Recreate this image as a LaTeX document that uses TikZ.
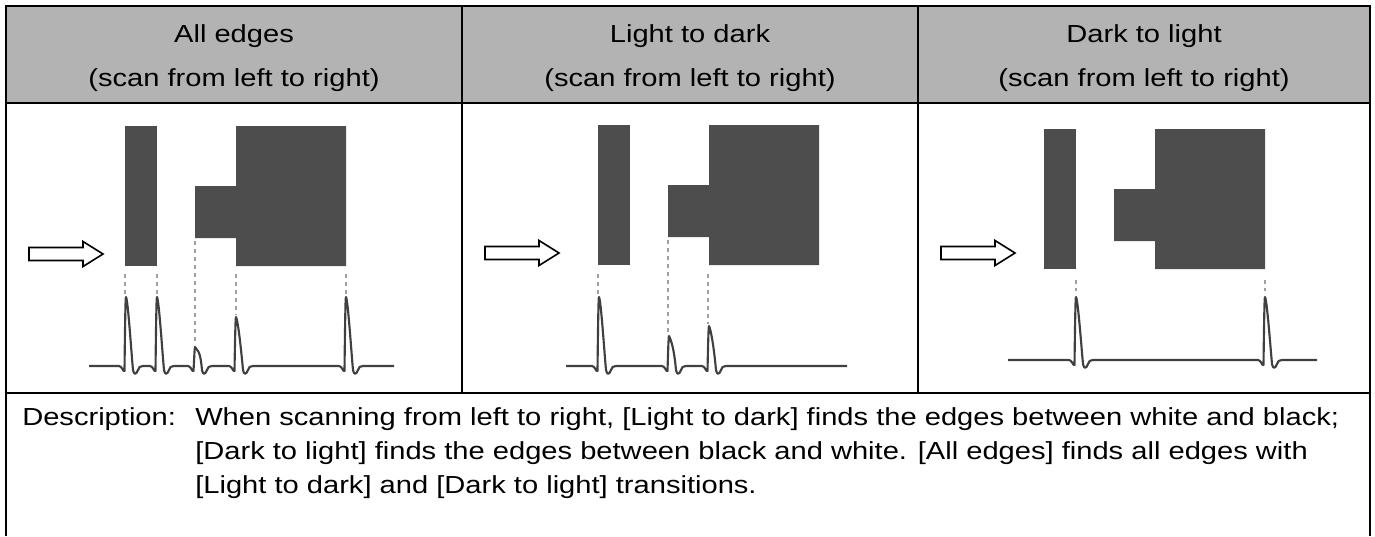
\documentclass[tikz,border=0pt]{standalone}
\usepackage{fontspec}
\setmainfont{Liberation Sans}[FakeStretch=1.18]
\usepackage{tikz}
\definecolor{headgray}{HTML}{B3B3B3}
\definecolor{blobgray}{HTML}{4D4D4D}
\definecolor{wavegray}{HTML}{404040}
\definecolor{guidegray}{HTML}{A0A0A0}
\tikzset{
  cellrule/.style={line width=1.6pt,draw=black},
  headtext/.style={anchor=base,inner sep=0pt,font=\fontsize{18.5pt}{22pt}\selectfont},
  desctext/.style={anchor=base west,inner sep=0pt,font=\fontsize{18.5pt}{22pt}\selectfont},
  blob/.style={fill=blobgray},
  guide/.style={draw=guidegray,line width=0.8pt,dash pattern=on 3pt off 3pt},
  wave/.style={draw=wavegray,line width=1.6pt,line join=round},
  arrowline/.style={draw=black,line width=1.2pt,fill=white},
  spike/.style n args={3}{insert path={-- (#1-7,#3)
    .. controls (#1-4,#3) and (#1-3,#3+6) .. (#1-1.5,#3+5)
    .. controls (#1-0.8,#2+12) and (#1-0.4,#2) .. (#1,#2)
    .. controls (#1+2,#2+4) and (#1+5,#3-18) .. (#1+7,#3+4)
    .. controls (#1+8,#3+9) and (#1+10,#3+9) .. (#1+12,#3+4)
    .. controls (#1+13,#3+1) and (#1+14,#3) .. (#1+17,#3)}}
}
\newcommand{\scanarrow}[3]{\draw[arrowline] (#1,#3-6.5) -- (#2-20,#3-6.5) -- (#2-20,#3-12.5)
  -- (#2,#3) -- (#2-20,#3+12.5) -- (#2-20,#3+6.5) -- (#1,#3+6.5) -- cycle;}
\newcommand{\blobs}{%
  \fill[blob] (0,0) rectangle (32,140);
  \fill[blob] (111,0) -- (221,0) -- (221,140) -- (111,140) -- (111,112) -- (70,112) -- (70,60) -- (111,60) -- cycle;}

\begin{document}
\begin{tikzpicture}[x=0.75pt,y=-0.75pt]
\useasboundingbox (0,0) rectangle (1375,536);

% table
\fill[headgray] (6,6) rectangle (1370,103);
\draw[cellrule] (6,536) -- (6,6) -- (1370,6) -- (1370,536);
\draw[cellrule] (6,103) -- (1370,103);
\draw[cellrule] (6,393) -- (1370,393);
\draw[cellrule] (462,6) -- (462,393);
\draw[cellrule] (918,6) -- (918,393);

\node[headtext] (allhead) at (234,42) {All edges};
\node[headtext] (allscan) at (234,86) {(scan from left to right)};
\node[headtext] (lighthead) at (690,42) {Light to dark};
\node[headtext] (lightscan) at (690,86) {(scan from left to right)};
\node[headtext] (darkhead) at (1144,42) {Dark to light};
\node[headtext] (darkscan) at (1144,86) {(scan from left to right)};

% all edges
\begin{scope}[shift={(125,126)}] \blobs \end{scope}
\scanarrow{29}{103}{254}
\draw[guide] (125,274) -- (125,295);
\draw[guide] (157,274) -- (157,295);
\draw[guide] (195,241) -- (195,345);
\draw[guide] (236,274) -- (236,315);
\draw[guide] (346,274) -- (346,295);
\draw[wave] (89,366) [spike={126}{297}{366}] [spike={157}{297}{366}] [spike={195}{347}{366}]
  [spike={236}{317}{366}] [spike={346}{297}{366}] -- (394,366);

% light to dark
\begin{scope}[shift={(598,125)}] \blobs \end{scope}
\scanarrow{485}{559}{253}
\draw[guide] (598,274) -- (598,295);
\draw[guide] (668,240) -- (668,334);
\draw[guide] (708,274) -- (708,324);
\draw[wave] (566,366) [spike={599}{297}{366}] [spike={669}{336}{366}] [spike={709}{326}{366}] -- (847,366);

% dark to light
\begin{scope}[shift={(1044,129)}] \blobs \end{scope}
\scanarrow{941}{1015}{253}
\draw[guide] (1076,280) -- (1076,291);
\draw[guide] (1265,280) -- (1265,291);
\draw[wave] (1008,360) [spike={1076}{297}{360}] [spike={1265}{297}{360}] -- (1317,360);

% description
\node[desctext] (desclabel) at (22,425) {Description:};
\node[desctext] (descline1) at (195,425) {When scanning from left to right, [Light to dark] finds the edges between white and black;};
\node[desctext] (descline2) at (195,459) {[Dark to light] finds the edges between black and white. [All edges] finds all edges with};
\node[desctext] (descline3) at (195,493) {[Light to dark] and [Dark to light] transitions.};
\end{tikzpicture}
\end{document}
